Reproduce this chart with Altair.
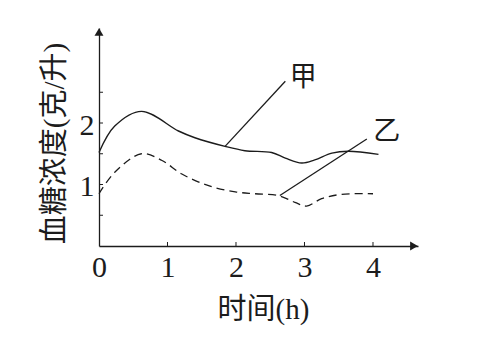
import altair as alt
import pandas as pd

# ---- data ----
jia_t = [0.0, 0.23, 0.62, 1.16, 1.40, 1.84, 2.13, 2.52, 2.72, 2.96, 3.15, 3.40, 3.64, 4.08]
jia_v = [1.52, 1.95, 2.19, 1.87, 1.76, 1.62, 1.55, 1.52, 1.43, 1.35, 1.40, 1.51, 1.54, 1.49]

yi_t = [0.0, 0.23, 0.62, 0.92, 1.21, 1.60, 1.99, 2.28, 2.62, 2.86, 3.03, 3.25, 3.54, 4.0]
yi_v = [0.85, 1.20, 1.50, 1.39, 1.17, 0.98, 0.88, 0.85, 0.82, 0.71, 0.65, 0.77, 0.84, 0.85]

x_ticks = [1, 2, 3, 4]
x_labels = [0, 1, 2, 3, 4]
y_ticks = [0.5, 1, 1.5, 2, 2.5]
y_labels = [1, 2]

leader_names = ["甲", "乙"]
leader_x1 = [1.84, 2.64]
leader_y1 = [1.62, 0.82]
leader_x2 = [2.72, 3.91]
leader_y2 = [2.68, 1.74]
label_x = [2.98, 4.20]
label_y = [2.74, 1.86]

X_MAX = 4.657
Y_MAX = 3.545

INK = "#1c1c1c"
SERIF = "Liberation Serif, Noto Sans CJK SC"

xs = alt.Scale(domain=[0, X_MAX], nice=False, zero=False)
ys = alt.Scale(domain=[0, Y_MAX], nice=False, zero=False)

jia_df = pd.DataFrame({"t": jia_t, "v": jia_v})
yi_df = pd.DataFrame({"t": yi_t, "v": yi_v})

x_axis = alt.Axis(
    values=x_labels, format="d", ticks=False, grid=False, domain=True,
    domainColor=INK, domainWidth=1.3,
    labelFont=SERIF, labelFontSize=30, labelColor=INK, labelPadding=6,
    labelFlush=False,
    title="时间(h)", titleFont=SERIF, titleFontSize=29, titleFontWeight="normal",
    titleColor=INK, titleX=164, titleY=72, titleBaseline="alphabetic",
)
y_axis = alt.Axis(
    values=y_labels, format="d", ticks=False, grid=False, domain=True,
    domainColor=INK, domainWidth=1.3,
    labelFont=SERIF, labelFontSize=30, labelColor=INK, labelPadding=5,
    labelBaseline="middle", labelOffset=2,
    title="血糖浓度(克/升)", titleFont=SERIF, titleFontSize=29, titleFontWeight="normal",
    titleColor=INK, titleX=-45, titleY=115, titleBaseline="middle", titleAlign="center",
    titleAngle=270,
)

line_jia = alt.Chart(jia_df).mark_line(
    color=INK, strokeWidth=1.4, interpolate="catmull-rom"
).encode(
    x=alt.X("t:Q", scale=xs, axis=x_axis),
    y=alt.Y("v:Q", scale=ys, axis=y_axis),
)

line_yi = alt.Chart(yi_df).mark_line(
    color=INK, strokeWidth=1.3, strokeDash=[8, 5], interpolate="catmull-rom"
).encode(
    x=alt.X("t:Q", scale=xs),
    y=alt.Y("v:Q", scale=ys),
)

# inward ticks
xt_df = pd.DataFrame({"x": x_ticks, "y": [0] * len(x_ticks), "y2": [4 / 61.5] * len(x_ticks)})
x_tick_marks = alt.Chart(xt_df).mark_rule(color=INK, strokeWidth=1).encode(
    x=alt.X("x:Q", scale=xs), y=alt.Y("y:Q", scale=ys), y2="y2:Q"
)
yt_df = pd.DataFrame({"y": y_ticks, "x": [0] * len(y_ticks), "x2": [4 / 68.5] * len(y_ticks)})
y_tick_marks = alt.Chart(yt_df).mark_rule(color=INK, strokeWidth=1).encode(
    y=alt.Y("y:Q", scale=ys), x=alt.X("x:Q", scale=xs), x2="x2:Q"
)

# arrowheads at the axis ends
up_df = pd.DataFrame({"x": [0], "y": [Y_MAX]})
right_df = pd.DataFrame({"x": [X_MAX], "y": [0]})
arrow_up = alt.Chart(up_df).mark_point(
    shape="triangle-up", filled=True, fill=INK, size=80, opacity=1, yOffset=4
).encode(x=alt.X("x:Q", scale=xs), y=alt.Y("y:Q", scale=ys))
arrow_right = alt.Chart(right_df).mark_point(
    shape="triangle-right", filled=True, fill=INK, size=80, opacity=1, xOffset=-4
).encode(x=alt.X("x:Q", scale=xs), y=alt.Y("y:Q", scale=ys))

lead_df = pd.DataFrame({
    "name": leader_names, "x1": leader_x1, "y1": leader_y1,
    "x2": leader_x2, "y2": leader_y2, "lx": label_x, "ly": label_y,
})
leaders = alt.Chart(lead_df).mark_rule(color=INK, strokeWidth=1.3).encode(
    x=alt.X("x1:Q", scale=xs), y=alt.Y("y1:Q", scale=ys), x2="x2:Q", y2="y2:Q"
)
names = alt.Chart(lead_df).mark_text(
    font="Noto Sans CJK SC", fontSize=27, color=INK, baseline="middle", align="center"
).encode(
    x=alt.X("lx:Q", scale=xs), y=alt.Y("ly:Q", scale=ys), text="name:N"
)

chart = alt.layer(
    line_jia, line_yi, x_tick_marks, y_tick_marks, arrow_up, arrow_right, leaders, names
).properties(
    width=319, height=218,
    autosize=alt.AutoSizeParams(type="none"),
    padding={"left": 99, "top": 28, "right": 74, "bottom": 99},
    background="white",
).configure_view(stroke=None)

chart.save("out.html", embed_options={"renderer": "svg", "actions": False})
